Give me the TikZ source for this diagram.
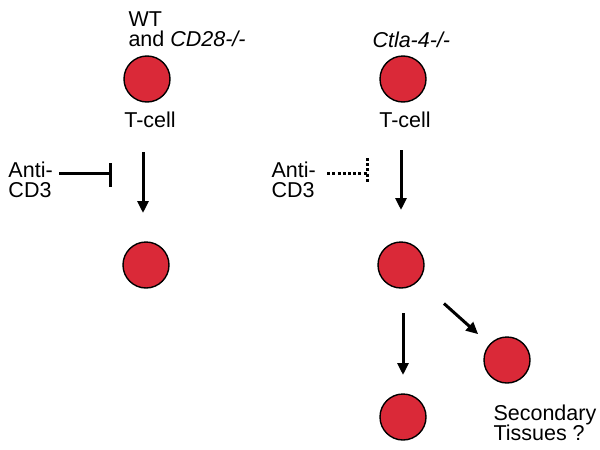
\documentclass[tikz,border=0pt]{standalone}
\usepackage{fontspec}
\setmainfont{Liberation Sans}
\usepackage{xcolor}
\usetikzlibrary{positioning}
\usetikzlibrary{arrows.meta}
\definecolor{cellred}{RGB}{218,41,56}

\begin{document}
\begin{tikzpicture}[x=1pt, y=-1pt, >={Triangle[width=11pt,length=12pt]}, line width=3pt, font=\fontsize{21.5}{20.5}\selectfont]
    \tikzstyle{cell}=[circle,draw=black,fill=cellred,line width=1.4pt,minimum size=46pt,inner sep=0pt]
    \tikzstyle{txt}=[inner sep=0pt, align=left]
    \tikzstyle{arr}=[->]
    \tikzstyle{inhibit}=[draw=black]
    \tikzstyle{weak}=[dash pattern=on 3pt off 2.2pt]

    \useasboundingbox (0,0) rectangle (600,450);

	% wild type column
	\node[cell] (wtcell) at (147,79) {};
	\node[cell] (wtout) at (146,265) {};
	\node[txt, anchor=north west] (wtlabel) at (127,10) {WT\\and \textit{CD28-/-}};
	\node[txt, below = 8pt of wtcell, xshift=3pt] (wttcell) {T-cell};
	\node[txt, anchor=north west] (antiL) at (7,160) {Anti-\\CD3};
	\coordinate (blockL) at (110,173);

	% ctla-4 column
	\node[cell] (ctcell) at (403,79) {};
	\node[cell] (ctout) at (401,265) {};
	\node[cell] (ctlow) at (403,417) {};
	\node[cell] (ctsec) at (507,360) {};
	\node[txt, anchor=north west] (ctlabel) at (371,30) {\textit{Ctla-4-/-}};
	\node[txt, below = 8pt of ctcell, xshift=2pt] (cttcell) {T-cell};
	\node[txt, anchor=north west] (antiR) at (270,160) {Anti-\\CD3};
	\node[txt, anchor=north west] (seclabel) at (492,403) {Secondary\\Tissues ?};
	\coordinate (blockR) at (367,173);

	\draw[arr, shorten <= 73pt, shorten >= 52pt] ([xshift=-4pt]wtcell.center) -- ([xshift=-3pt]wtout.center);
	\draw[inhibit, shorten <= 5pt] (antiL.east |- blockL) -- (blockL);
	\draw[inhibit] ([yshift=10pt]blockL) -- ([yshift=-14pt]blockL);

	\draw[arr, shorten <= 71pt, shorten >= 55pt] ([xshift=-2pt]ctcell.center) -- (ctout.center);
	\draw[inhibit, weak, shorten <= 10pt] (antiR.east |- blockR) -- (blockR);
	\draw[inhibit, weak] ([yshift=15pt]blockR) -- ([yshift=-10pt]blockR);
	\draw[arr, shorten <= 48pt, shorten >= 42pt] ([xshift=2pt]ctout.center) -- (ctlow.center);
	\draw[arr, shorten <= 34pt, shorten >= 15pt] (ctout) -- (ctsec);
\end{tikzpicture}
\end{document}
